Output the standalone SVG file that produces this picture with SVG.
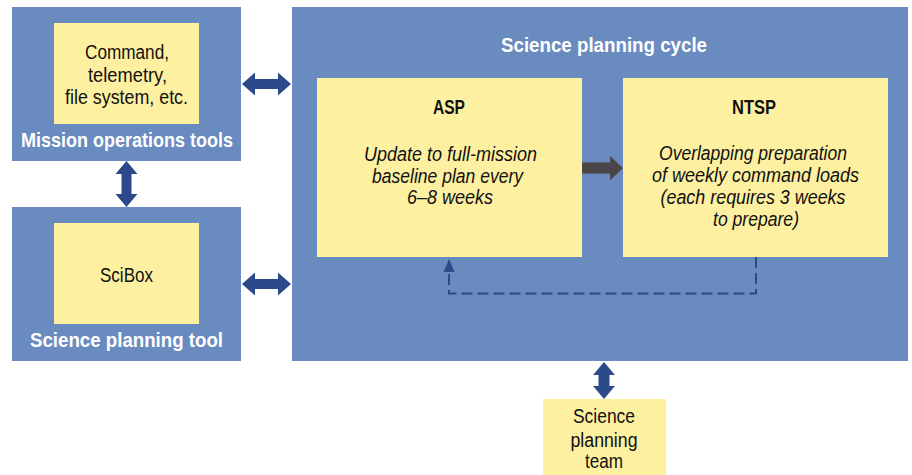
<svg xmlns="http://www.w3.org/2000/svg" width="912" height="475" viewBox="0 0 912 475">
  <style>
    .panel { fill: #6a8bbf; }
    .card { fill: #fdf0a0; }
    text { font-family: "Liberation Sans Narrow", "Liberation Sans", Arial, sans-serif; text-anchor: middle; }
    .body { font-size: 20px; fill: #111111; }
    .label { font-size: 21px; font-weight: bold; fill: #ffffff; }
    .head { font-size: 21px; font-weight: bold; fill: #111111; }
    .note { font-size: 20px; font-style: italic; fill: #111111; }
    .link { fill: #2c4a8a; }
    .flow { fill: #4b4549; }
    .loop { fill: none; stroke: #2c4a8a; stroke-width: 2; stroke-dasharray: 11 5; }
  </style>

  <!-- Mission operations tools -->
  <g id="mission-ops">
    <rect class="panel" x="12" y="7" width="229" height="154"/>
    <rect class="card" x="54" y="23" width="145" height="101"/>
    <text class="body" x="127" y="59" textLength="84" lengthAdjust="spacingAndGlyphs">Command,</text>
    <text class="body" x="127.5" y="82" textLength="79" lengthAdjust="spacingAndGlyphs">telemetry,</text>
    <text class="body" x="126.5" y="104" textLength="123" lengthAdjust="spacingAndGlyphs">file system, etc.</text>
    <text class="label" x="127" y="147" textLength="212" lengthAdjust="spacingAndGlyphs">Mission operations tools</text>
  </g>

  <!-- Science planning tool -->
  <g id="science-tool">
    <rect class="panel" x="12" y="207" width="229" height="154"/>
    <rect class="card" x="54" y="223" width="145" height="101"/>
    <text class="body" x="126.5" y="282" textLength="53" lengthAdjust="spacingAndGlyphs">SciBox</text>
    <text class="label" x="126.5" y="347" textLength="193" lengthAdjust="spacingAndGlyphs">Science planning tool</text>
  </g>

  <!-- Science planning cycle -->
  <g id="planning-cycle">
    <rect class="panel" x="292" y="7" width="616" height="354"/>
    <text class="label" x="604" y="51.5" textLength="206" lengthAdjust="spacingAndGlyphs">Science planning cycle</text>
  </g>

  <g id="asp">
    <rect class="card" x="317" y="78" width="265" height="179"/>
    <text class="head" x="449" y="114" textLength="32" lengthAdjust="spacingAndGlyphs">ASP</text>
    <text class="note" x="450.5" y="161" textLength="173" lengthAdjust="spacingAndGlyphs">Update to full-mission</text>
    <text class="note" x="447.5" y="183" textLength="151" lengthAdjust="spacingAndGlyphs">baseline plan every</text>
    <text class="note" x="450" y="204" textLength="86" lengthAdjust="spacingAndGlyphs">6–8 weeks</text>
  </g>

  <g id="ntsp">
    <rect class="card" x="623" y="78" width="265" height="179"/>
    <text class="head" x="754" y="114" textLength="44" lengthAdjust="spacingAndGlyphs">NTSP</text>
    <text class="note" x="753" y="160" textLength="188" lengthAdjust="spacingAndGlyphs">Overlapping preparation</text>
    <text class="note" x="755.5" y="182" textLength="207" lengthAdjust="spacingAndGlyphs">of weekly command loads</text>
    <text class="note" x="753" y="204" textLength="185" lengthAdjust="spacingAndGlyphs">(each requires 3 weeks</text>
    <text class="note" x="756" y="226" textLength="86" lengthAdjust="spacingAndGlyphs">to prepare)</text>
  </g>

  <!-- Science planning team -->
  <g id="science-team">
    <rect class="card" x="543" y="399" width="123" height="76"/>
    <text class="body" x="604" y="423" textLength="62" lengthAdjust="spacingAndGlyphs">Science</text>
    <text class="body" x="604" y="447" textLength="67" lengthAdjust="spacingAndGlyphs">planning</text>
    <text class="body" x="604" y="468" textLength="38" lengthAdjust="spacingAndGlyphs">team</text>
  </g>

  <!-- Connectors -->
  <g id="connectors">
    <!-- mission ops <-> planning cycle -->
    <polygon class="link" points="242,84 255,72.5 255,79 278,79 278,72.5 291,84 278,95.5 278,89 255,89 255,95.5"/>
    <!-- science tool <-> planning cycle -->
    <polygon class="link" points="242,284 255,272.5 255,279 278,279 278,272.5 291,284 278,295.5 278,289 255,289 255,295.5"/>
    <!-- mission ops <-> science tool -->
    <polygon class="link" points="126.5,161 137.5,174 131.5,174 131.5,194 137.5,194 126.5,207 115.5,194 121.5,194 121.5,174 115.5,174"/>
    <!-- planning cycle <-> team -->
    <polygon class="link" points="604,362 615,375 609.5,375 609.5,386 615,386 604,399 593,386 598.5,386 598.5,375 593,375"/>
    <!-- ASP -> NTSP -->
    <polygon class="flow" points="582,162.5 610,162.5 610,156 623,168 610,180.5 610,173.5 582,173.5"/>
    <!-- NTSP feedback to ASP -->
    <path class="loop" d="M756,257 V293.5 H449 V271"/>
    <polygon class="link" points="449,259 454.5,272 443.5,272"/>
  </g>
</svg>
